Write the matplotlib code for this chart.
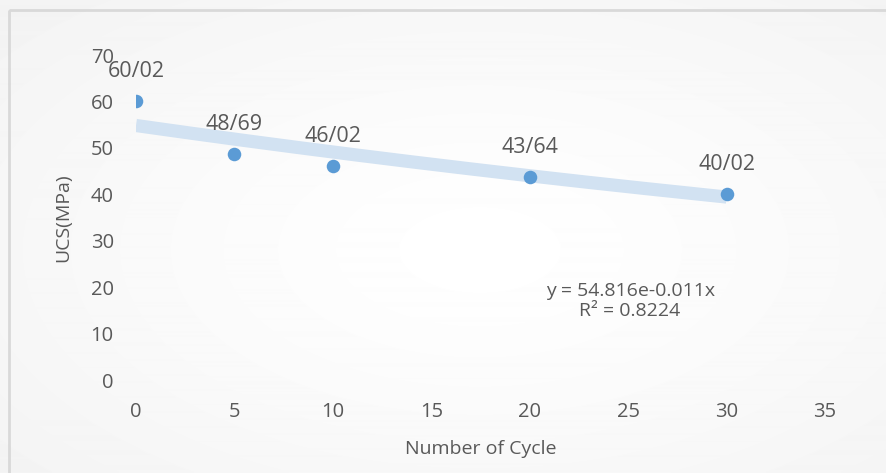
import numpy as np
import matplotlib.pyplot as plt
from matplotlib.patches import Rectangle

plt.rcParams['font.family'] = ['Open Sans', 'DejaVu Sans']

# data
cycles = [0, 5, 10, 20, 30]
ucs = [60.02, 48.69, 46.02, 43.64, 40.02]
point_labels = ['60/02', '48/69', '46/02', '43/64', '40/02']
fit_a = 54.816
fit_b = -0.011
fit_text = 'y = 54.816e-0.011x\nR² = 0.8224'
x_ticks = [0, 5, 10, 15, 20, 25, 30, 35]
y_ticks = [0, 10, 20, 30, 40, 50, 60, 70]

txt_color = '#595959'
pt_color = '#5B9BD5'
trend_color = '#D2E2F2'

fig = plt.figure(figsize=(8.86, 4.73), dpi=100)

# soft radial background like the Excel chart area
bg = fig.add_axes([0, 0, 1, 1], zorder=-10)
yy, xx = np.mgrid[0:473, 0:886]
r = np.sqrt(((xx - 480) / 886) ** 2 + ((yy - 250) / 473) ** 2)
shade = 1.0 - 0.045 * np.clip(r / 0.7, 0, 1) ** 1.2
bg.imshow(shade, cmap='gray', vmin=0, vmax=1, extent=[0, 886, 473, 0],
          aspect='auto', interpolation='bilinear')
bg.add_patch(Rectangle((9.5, 10.5), 900, 500, fill=False, edgecolor='#d9d9d9', linewidth=2))
bg.set_xlim(0, 886)
bg.set_ylim(473, 0)
bg.axis('off')

ax = fig.add_axes([136 / 886, 93 / 473, 689 / 886, 325 / 473])
ax.patch.set_alpha(0)

# exponential trendline
xs = np.linspace(min(cycles), max(cycles), 200)
ax.plot(xs, fit_a * np.exp(fit_b * xs), color=trend_color, linewidth=9.5,
        solid_capstyle='butt', zorder=1)

ax.scatter(cycles, ucs, s=95, color=pt_color, zorder=3, linewidths=0)
for x, y, lab in zip(cycles, ucs, point_labels):
    ax.annotate(lab, (x, y), xytext=(0, 21.5), textcoords='offset points',
                ha='center', va='center', fontsize=15.5, color=txt_color)

ax.text(25.1, 17, fit_text, ha='center', va='center', fontsize=14,
        color=txt_color, linespacing=1.15)

ax.set_xlim(0, 35)
ax.set_ylim(0, 70)
ax.set_xticks(x_ticks)
ax.set_yticks(y_ticks)
ax.tick_params(length=0, labelsize=14.5, labelcolor=txt_color, pad=16)
ax.tick_params(axis='y', pad=16)
for s in ax.spines.values():
    s.set_visible(False)
ax.set_xlabel('Number of Cycle', fontsize=14, color=txt_color, labelpad=13)
ax.set_ylabel('UCS(MPa)', fontsize=14, color=txt_color, labelpad=13)

fig.savefig('out.png', dpi=100)
